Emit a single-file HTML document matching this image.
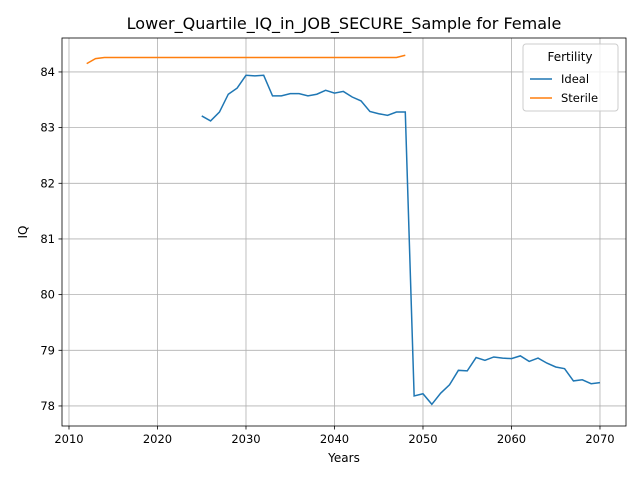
<!DOCTYPE html>
<html><head><meta charset="utf-8"><style>
body{margin:0;background:#fff;font-family:"Liberation Sans","DejaVu Sans",sans-serif;}
</style></head><body>
<svg id="chart" width="640" height="480" xmlns="http://www.w3.org/2000/svg" font-family="DejaVu Sans, Liberation Sans, sans-serif">
<rect width="640" height="480" fill="#fff"/>
<g id="grid"></g>
<g id="lines"></g>
<rect x="62" y="38" width="564" height="388" fill="none" stroke="#000" stroke-width="0.8"/>
<g id="ticks"></g>
<text x="344" y="29" text-anchor="middle" font-size="16">Lower_Quartile_IQ_in_JOB_SECURE_Sample for Female</text>
<text x="344" y="462" text-anchor="middle" font-size="12">Years</text>
<text x="27" y="232" text-anchor="middle" font-size="12" transform="rotate(-90 27 232)">IQ</text>
<g>
<rect x="523" y="44" width="95" height="67" rx="3" fill="#fff" fill-opacity="0.8" stroke="#ccc"/>
<text x="570" y="61" text-anchor="middle" font-size="12">Fertility</text>
<line x1="530" y1="79" x2="552" y2="79" stroke="#1f77b4" stroke-width="1.5"/>
<text x="561" y="83" font-size="11.5">Ideal</text>
<line x1="530" y1="98" x2="552" y2="98" stroke="#ff7f0e" stroke-width="1.5"/>
<text x="561" y="102" font-size="11.5">Sterile</text>
</g>
</svg>
<script>
const idealYears = [2025,2026,2027,2028,2029,2030,2031,2032,2033,2034,2035,2036,2037,2038,2039,2040,2041,2042,2043,2044,2045,2046,2047,2048,2049,2050,2051,2052,2053,2054,2055,2056,2057,2058,2059,2060,2061,2062,2063,2064,2065,2066,2067,2068,2069,2070];
const idealValues = [83.21,83.12,83.28,83.60,83.71,83.94,83.93,83.94,83.57,83.57,83.61,83.61,83.57,83.60,83.67,83.62,83.65,83.55,83.48,83.29,83.25,83.22,83.28,83.28,78.18,78.22,78.03,78.23,78.38,78.64,78.63,78.87,78.82,78.88,78.86,78.85,78.90,78.80,78.86,78.77,78.70,78.67,78.45,78.47,78.40,78.42];
const sterileYears = [2012,2013,2014,2015,2016,2017,2018,2019,2020,2021,2022,2023,2024,2025,2026,2027,2028,2029,2030,2031,2032,2033,2034,2035,2036,2037,2038,2039,2040,2041,2042,2043,2044,2045,2046,2047,2048];
const sterileValues = [84.15,84.24,84.26,84.26,84.26,84.26,84.26,84.26,84.26,84.26,84.26,84.26,84.26,84.26,84.26,84.26,84.26,84.26,84.26,84.26,84.26,84.26,84.26,84.26,84.26,84.26,84.26,84.26,84.26,84.26,84.26,84.26,84.26,84.26,84.26,84.26,84.30];
const xTicks = [2010,2020,2030,2040,2050,2060,2070];
const yTicks = [78,79,80,81,82,83,84];

const X0=62,X1=626,Y0=38,Y1=426;
const xMin=2009.21,xMax=2072.94,yMin=77.64,yMax=84.61;
const sx=v=>X0+(v-xMin)/(xMax-xMin)*(X1-X0);
const sy=v=>Y1-(v-yMin)/(yMax-yMin)*(Y1-Y0);
const NS="http://www.w3.org/2000/svg";
function mk(tag,attrs,parent){const e=document.createElementNS(NS,tag);for(const k in attrs)e.setAttribute(k,attrs[k]);document.getElementById(parent).appendChild(e);return e;}
xTicks.forEach(t=>{
  const x=sx(t);
  const g=mk('line',{x1:x,x2:x,y1:Y0,y2:Y1,stroke:'#b0b0b0','stroke-width':0.8},'grid');
  
  
  const tk=mk('line',{x1:x,x2:x,y1:Y1,y2:Y1+3.5,stroke:'#000','stroke-width':0.8},'ticks');
  
  
  const tl=mk('text',{x:x,y:Y1+17,'text-anchor':'middle','font-size':11.5},'ticks');
  tl.textContent=t;
  
  
});
yTicks.forEach(t=>{
  const y=sy(t);
  const g=mk('line',{x1:X0,x2:X1,y1:y,y2:y,stroke:'#b0b0b0','stroke-width':0.8},'grid');
  
  
  const tk=mk('line',{x1:X0-3.5,x2:X0,y1:y,y2:y,stroke:'#000','stroke-width':0.8},'ticks');
  
  
  const tl=mk('text',{x:X0-7,y:y+4,'text-anchor':'end','font-size':11.5},'ticks');
  tl.textContent=t;
  
  
});
function series(xs,ys,color,name){
  const p=mk('polyline',{points:xs.map((x,i)=>sx(x)+','+sy(ys[i])).join(' '),fill:'none',stroke:color,'stroke-width':1.5},'lines');
  
  
}
series(idealYears,idealValues,'#1f77b4','ideal-line');
series(sterileYears,sterileValues,'#ff7f0e','sterile-line');
</script>
</body></html>
